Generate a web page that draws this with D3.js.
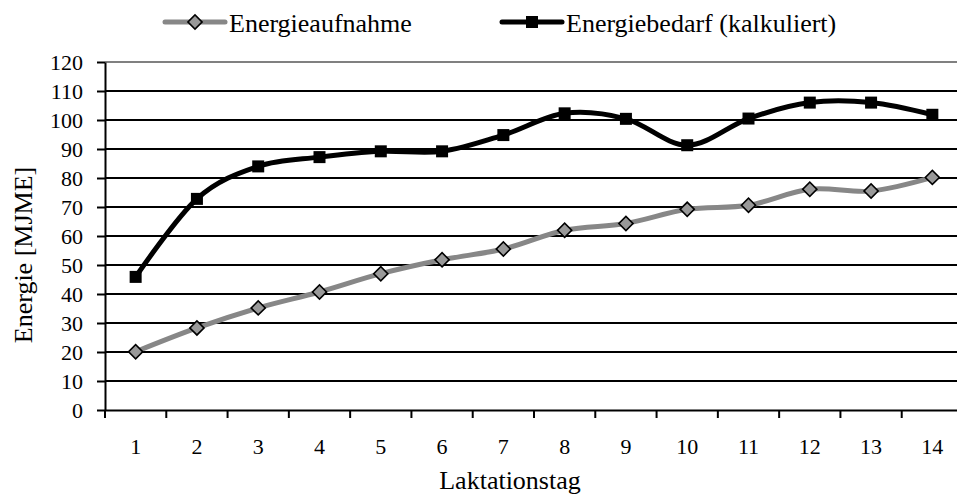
<!DOCTYPE html>
<html>
<head>
<meta charset="utf-8">
<script src="https://cdn.jsdelivr.net/npm/d3@7"></script>
<style>
  body { margin: 0; background: #fff; }
  svg { display: block; font-family: "Liberation Serif", "Times New Roman", serif; }
</style>
</head>
<body>
<div id="graph"></div>
<script>
// data
const days = [1, 2, 3, 4, 5, 6, 7, 8, 9, 10, 11, 12, 13, 14];
const intake = [20.1, 28.3, 35.2, 40.7, 47, 51.8, 55.5, 62, 64.3, 69.2, 70.6, 76.1, 75.5, 80.2];
const demand = [45.9, 72.8, 84, 87.2, 89.2, 89.2, 94.8, 102.3, 100.4, 91.3, 100.5, 106, 106, 101.8];
const yTicks = [0, 10, 20, 30, 40, 50, 60, 70, 80, 90, 100, 110, 120];
const seriesNames = ["Energieaufnahme", "Energiebedarf (kalkuliert)"];

const W = 957, H = 495;
const plot = { left: 105, right: 963, top: 62, bottom: 410 };
const serif = '"Liberation Serif", "Times New Roman", serif';

const svg = d3.select("#graph")
  .append("svg")
  .attr("width", W)
  .attr("height", H);

const x = d3.scaleBand()
  .domain(days)
  .range([plot.left, plot.right])
  .padding(0);

const y = d3.scaleLinear()
  .domain([0, 120])
  .range([plot.bottom, plot.top]);

const cx = d => x(d) + x.bandwidth() / 2;

// grid lines
svg.append("g")
  .attr("shape-rendering", "crispEdges")
  .selectAll("line")
  .data(yTicks.filter(t => t > 0))
  .join("line")
  .attr("x1", plot.left)
  .attr("x2", plot.right)
  .attr("y1", d => y(d))
  .attr("y2", d => y(d))
  .attr("stroke", d => d === 120 ? "#808080" : "#000")
  .attr("stroke-width", 2);

// y axis
const yAxis = svg.append("g")
  .attr("transform", `translate(${plot.left},0)`)
  .call(d3.axisLeft(y).tickValues(yTicks).tickSize(8).tickPadding(14).tickSizeOuter(0))
  .attr("font-family", serif)
  .attr("font-size", 22);
yAxis.select(".domain").attr("stroke", "#000").attr("stroke-width", 2);
yAxis.selectAll(".tick line").attr("stroke", "#000").attr("stroke-width", 2);
yAxis.selectAll("text").attr("fill", "#000");

// x axis: labels centred in bands, ticks on band edges
const xAxis = svg.append("g")
  .attr("transform", `translate(0,${plot.bottom})`)
  .call(d3.axisBottom(x).tickSize(0).tickPadding(28).tickSizeOuter(0))
  .attr("font-family", serif)
  .attr("font-size", 22);
xAxis.select(".domain").attr("stroke", "#000").attr("stroke-width", 2);
xAxis.selectAll("text").attr("fill", "#000");

svg.append("g")
  .selectAll("line")
  .data(days.map(d => x(d)).concat([plot.right]))
  .join("line")
  .attr("x1", d => d)
  .attr("x2", d => d)
  .attr("y1", plot.bottom)
  .attr("y2", plot.bottom + 8)
  .attr("stroke", "#000")
  .attr("stroke-width", 2);

// lines (uniform Catmull-Rom, like the spreadsheet smoothing)
const line = d3.line()
  .x(d => cx(d.day))
  .y(d => y(d.v))
  .curve(d3.curveCardinal.tension(0));

const intakeData = days.map((d, i) => ({ day: d, v: intake[i] }));
const demandData = days.map((d, i) => ({ day: d, v: demand[i] }));

svg.append("path")
  .datum(intakeData)
  .attr("d", line)
  .attr("fill", "none")
  .attr("stroke", "#878787")
  .attr("stroke-width", 5);

svg.append("path")
  .datum(demandData)
  .attr("d", line)
  .attr("fill", "none")
  .attr("stroke", "#000")
  .attr("stroke-width", 5);

const diamond = d3.symbol().type(d3.symbolSquare).size(100);

svg.append("g")
  .selectAll("path")
  .data(intakeData)
  .join("path")
  .attr("d", diamond)
  .attr("transform", d => `translate(${cx(d.day)},${y(d.v)}) rotate(45)`)
  .attr("fill", "#999")
  .attr("stroke", "#000")
  .attr("stroke-width", 1.6);

svg.append("g")
  .selectAll("rect")
  .data(demandData)
  .join("rect")
  .attr("x", d => cx(d.day) - 6)
  .attr("y", d => y(d.v) - 6)
  .attr("width", 12)
  .attr("height", 12)
  .attr("fill", "#000");

// axis titles
svg.append("text")
  .attr("x", 510)
  .attr("y", 489)
  .attr("text-anchor", "middle")
  .style("font-size", "26px")
  .text("Laktationstag");

svg.append("text")
  .attr("transform", "translate(32,255) rotate(-90)")
  .attr("text-anchor", "middle")
  .style("font-size", "26px")
  .text("Energie [MJME]");

// legend
const legend = svg.append("g");
const legendItems = [
  { name: seriesNames[0], x: 165, color: "#878787", marker: "diamond" },
  { name: seriesNames[1], x: 502, color: "#000", marker: "square" }
];
legendItems.forEach(it => {
  const g = legend.append("g").attr("transform", `translate(${it.x},22)`);
  g.append("line")
    .attr("x1", 0).attr("x2", 60)
    .attr("stroke", it.color)
    .attr("stroke-width", 5)
    .attr("stroke-linecap", "round");
  if (it.marker === "diamond") {
    g.append("path")
      .attr("d", diamond)
      .attr("transform", "translate(30,0) rotate(45)")
      .attr("fill", "#999")
      .attr("stroke", "#000")
      .attr("stroke-width", 1.6);
  } else {
    g.append("rect")
      .attr("x", 24).attr("y", -6)
      .attr("width", 12).attr("height", 12)
      .attr("fill", "#000");
  }
  g.append("text")
    .attr("x", 64)
    .attr("y", 10)
    .style("font-size", "26px")
    .text(it.name);
});
</script>
</body>
</html>
